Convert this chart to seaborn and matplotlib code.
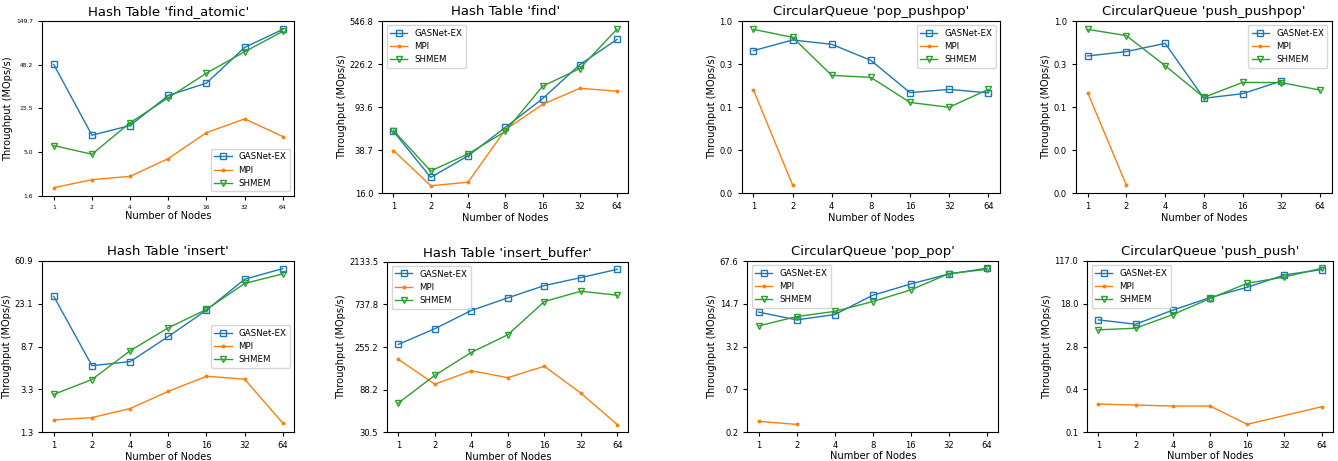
import numpy as np
import pandas as pd
import matplotlib
matplotlib.use("Agg")
import matplotlib.pyplot as plt
from matplotlib.ticker import NullLocator, FixedLocator, FixedFormatter
import seaborn as sns

nan = np.nan
nodes = [1, 2, 4, 8, 16, 32, 64]
node_labels = ["1", "2", "4", "8", "16", "32", "64"]
series_names = ["GASNet-EX", "MPI", "SHMEM"]

# ---- Hash Table 'find_atomic'
find_atomic_gasnet = [48.5, 7.73, 9.94, 21.7, 29.9, 75.5, 120.5]
find_atomic_mpi = [1.98, 2.44, 2.66, 4.22, 8.28, 11.8, 7.47]
find_atomic_shmem = [5.91, 4.72, 10.7, 20.4, 38.7, 67.5, 114.5]
find_atomic_ylim = (1.61, 149.7)
find_atomic_yticks = ["1.6", "5.0", "15.5", "48.2", "149.7"]

# ---- Hash Table 'find'
find_gasnet = [56.9, 22.2, 34.5, 61.8, 111.4, 224.0, 375.0]
find_mpi = [38.5, 18.7, 20.1, 58.9, 99.1, 137.8, 129.6]
find_shmem = [58.0, 25.3, 35.9, 56.9, 143.6, 206.5, 464.0]
find_ylim = (16.02, 546.8)
find_yticks = ["16.0", "38.7", "93.6", "226.2", "546.8"]

# ---- CircularQueue 'pop_pushpop'
pop_pushpop_gasnet = [0.439, 0.584, 0.520, 0.339, 0.143, 0.156, 0.142]
pop_pushpop_mpi = [0.154, 0.0121, nan, nan, nan, nan, nan]
pop_pushpop_shmem = [0.776, 0.627, 0.227, 0.215, 0.110, 0.0966, 0.156]
pop_pushpop_ylim = (0.0097, 0.97)
pop_pushpop_yticks = ["0.0", "0.0", "0.1", "0.3", "1.0"]

# ---- CircularQueue 'push_pushpop'
push_pushpop_gasnet = [0.381, 0.428, 0.534, 0.123, 0.139, 0.195, nan]
push_pushpop_mpi = [0.143, 0.0121, nan, nan, nan, nan, nan]
push_pushpop_shmem = [0.776, 0.656, 0.294, 0.126, 0.188, 0.187, 0.153]
push_pushpop_ylim = (0.0097, 0.97)
push_pushpop_yticks = ["0.0", "0.0", "0.1", "0.3", "1.0"]

# ---- Hash Table 'insert'
insert_gasnet = [27.3, 5.68, 6.22, 11.0, 20.0, 40.3, 51.3]
insert_mpi = [1.66, 1.75, 2.15, 3.17, 4.47, 4.18, 1.54]
insert_shmem = [2.96, 4.15, 7.96, 13.4, 20.3, 36.6, 45.5]
insert_ylim = (1.254, 60.9)
insert_yticks = ["1.3", "3.3", "8.7", "23.1", "60.9"]

# ---- Hash Table 'insert_buffer'
insert_buffer_gasnet = [272, 402, 633, 867, 1177, 1436, 1765]
insert_buffer_mpi = [188, 101, 141, 119, 158, 80.9, 36.9]
insert_buffer_shmem = [63.1, 126, 223, 346, 791, 1023, 926]
insert_buffer_ylim = (30.517, 2133.5)
insert_buffer_yticks = ["30.5", "88.2", "255.2", "737.8", "2133.5"]

# ---- CircularQueue 'pop_pop'
pop_pop_gasnet = [10.9, 8.26, 9.99, 19.9, 29.8, 42.5, 52.1]
pop_pop_mpi = [0.221, 0.198, nan, nan, nan, nan, nan]
pop_pop_shmem = [6.67, 9.30, 11.2, 15.9, 24.1, 43.0, 50.2]
pop_pop_ylim = (0.151, 67.6)
pop_pop_yticks = ["0.2", "0.7", "3.2", "14.7", "67.6"]

# ---- CircularQueue 'push_push'
push_push_gasnet = [8.88, 7.35, 13.6, 23.6, 37.0, 63.5, 80.2]
push_push_mpi = [0.223, 0.213, 0.204, 0.204, 0.0917, nan, 0.198]
push_push_shmem = [5.74, 6.17, 11.2, 22.6, 44.1, 58.1, 84.9]
push_push_ylim = (0.0655, 117.0)
push_push_yticks = ["0.1", "0.4", "2.8", "18.0", "117.0"]

titles = ["Hash Table 'find_atomic'", "Hash Table 'find'",
          "CircularQueue 'pop_pushpop'", "CircularQueue 'push_pushpop'",
          "Hash Table 'insert'", "Hash Table 'insert_buffer'",
          "CircularQueue 'pop_pop'", "CircularQueue 'push_push'"]

panels = [
    (find_atomic_gasnet, find_atomic_mpi, find_atomic_shmem, find_atomic_ylim, find_atomic_yticks),
    (find_gasnet, find_mpi, find_shmem, find_ylim, find_yticks),
    (pop_pushpop_gasnet, pop_pushpop_mpi, pop_pushpop_shmem, pop_pushpop_ylim, pop_pushpop_yticks),
    (push_pushpop_gasnet, push_pushpop_mpi, push_pushpop_shmem, push_pushpop_ylim, push_pushpop_yticks),
    (insert_gasnet, insert_mpi, insert_shmem, insert_ylim, insert_yticks),
    (insert_buffer_gasnet, insert_buffer_mpi, insert_buffer_shmem, insert_buffer_ylim, insert_buffer_yticks),
    (pop_pop_gasnet, pop_pop_mpi, pop_pop_shmem, pop_pop_ylim, pop_pop_yticks),
    (push_push_gasnet, push_push_mpi, push_push_shmem, push_push_ylim, push_push_yticks),
]

# layout (pixel boxes: left, right, top, bottom)
W, H = 1338, 461
boxes = [
    (42.3, 294.3, 21, 195.7),
    (382.3, 628.3, 21, 193.3),
    (741.7, 1000.0, 21, 193.3),
    (1076.0, 1331.7, 21, 193.3),
    (42.3, 294.3, 261, 432.3),
    (387.3, 628.3, 261.7, 432.3),
    (747.3, 998.3, 261, 432),
    (1087.3, 1332.7, 261, 432),
]
legend_locs = ["lower right", "upper left", "upper right", "upper right",
               "center right", "upper left", "upper left", "upper left"]
tick_sizes = [4.3, 6, 6, 6, 6, 6, 6, 6]

colors = sns.color_palette("tab10", 3)
markers = ["s", ".", "v"]

fig = plt.figure(figsize=(W / 100, H / 100), dpi=100)

for i, (g, m, s, ylim, ylabels) in enumerate(panels):
    l, r, t, b = boxes[i]
    ax = fig.add_axes([l / W, 1 - b / H, (r - l) / W, (b - t) / H])
    for name, vals, c, mk in zip(series_names, [g, m, s], colors, markers):
        df = pd.DataFrame({"nodes": nodes, "val": vals}).dropna()
        kw = dict(markersize=4.2, markerfacecolor="none", markeredgewidth=1.0)
        if mk == ".":
            kw = dict(markersize=4, markerfacecolor=c, markeredgewidth=0.8)
        sns.lineplot(data=df, x="nodes", y="val", ax=ax, color=c, marker=mk,
                     label=name, linewidth=1.0, markeredgecolor=c, **kw)
    ax.set_xscale("log", base=2)
    ax.set_yscale("log")
    ax.set_ylim(*ylim)
    ax.xaxis.set_major_locator(FixedLocator(nodes))
    ax.xaxis.set_major_formatter(FixedFormatter(node_labels))
    ax.xaxis.set_minor_locator(NullLocator())
    yt = np.geomspace(ylim[0], ylim[1], 5)
    ax.yaxis.set_major_locator(FixedLocator(yt))
    ax.yaxis.set_major_formatter(FixedFormatter(ylabels))
    ax.yaxis.set_minor_locator(NullLocator())
    ax.tick_params(labelsize=tick_sizes[i], length=3, width=0.8)
    ax.set_title(titles[i], fontsize=9.5, pad=4)
    ax.set_xlabel("Number of Nodes", fontsize=7.1, labelpad=1)
    ax.set_ylabel("Throughput (MOps/s)", fontsize=7.1, labelpad=2)
    ax.legend(loc=legend_locs[i], fontsize=6.25)

fig.savefig("out.png", dpi=100)
